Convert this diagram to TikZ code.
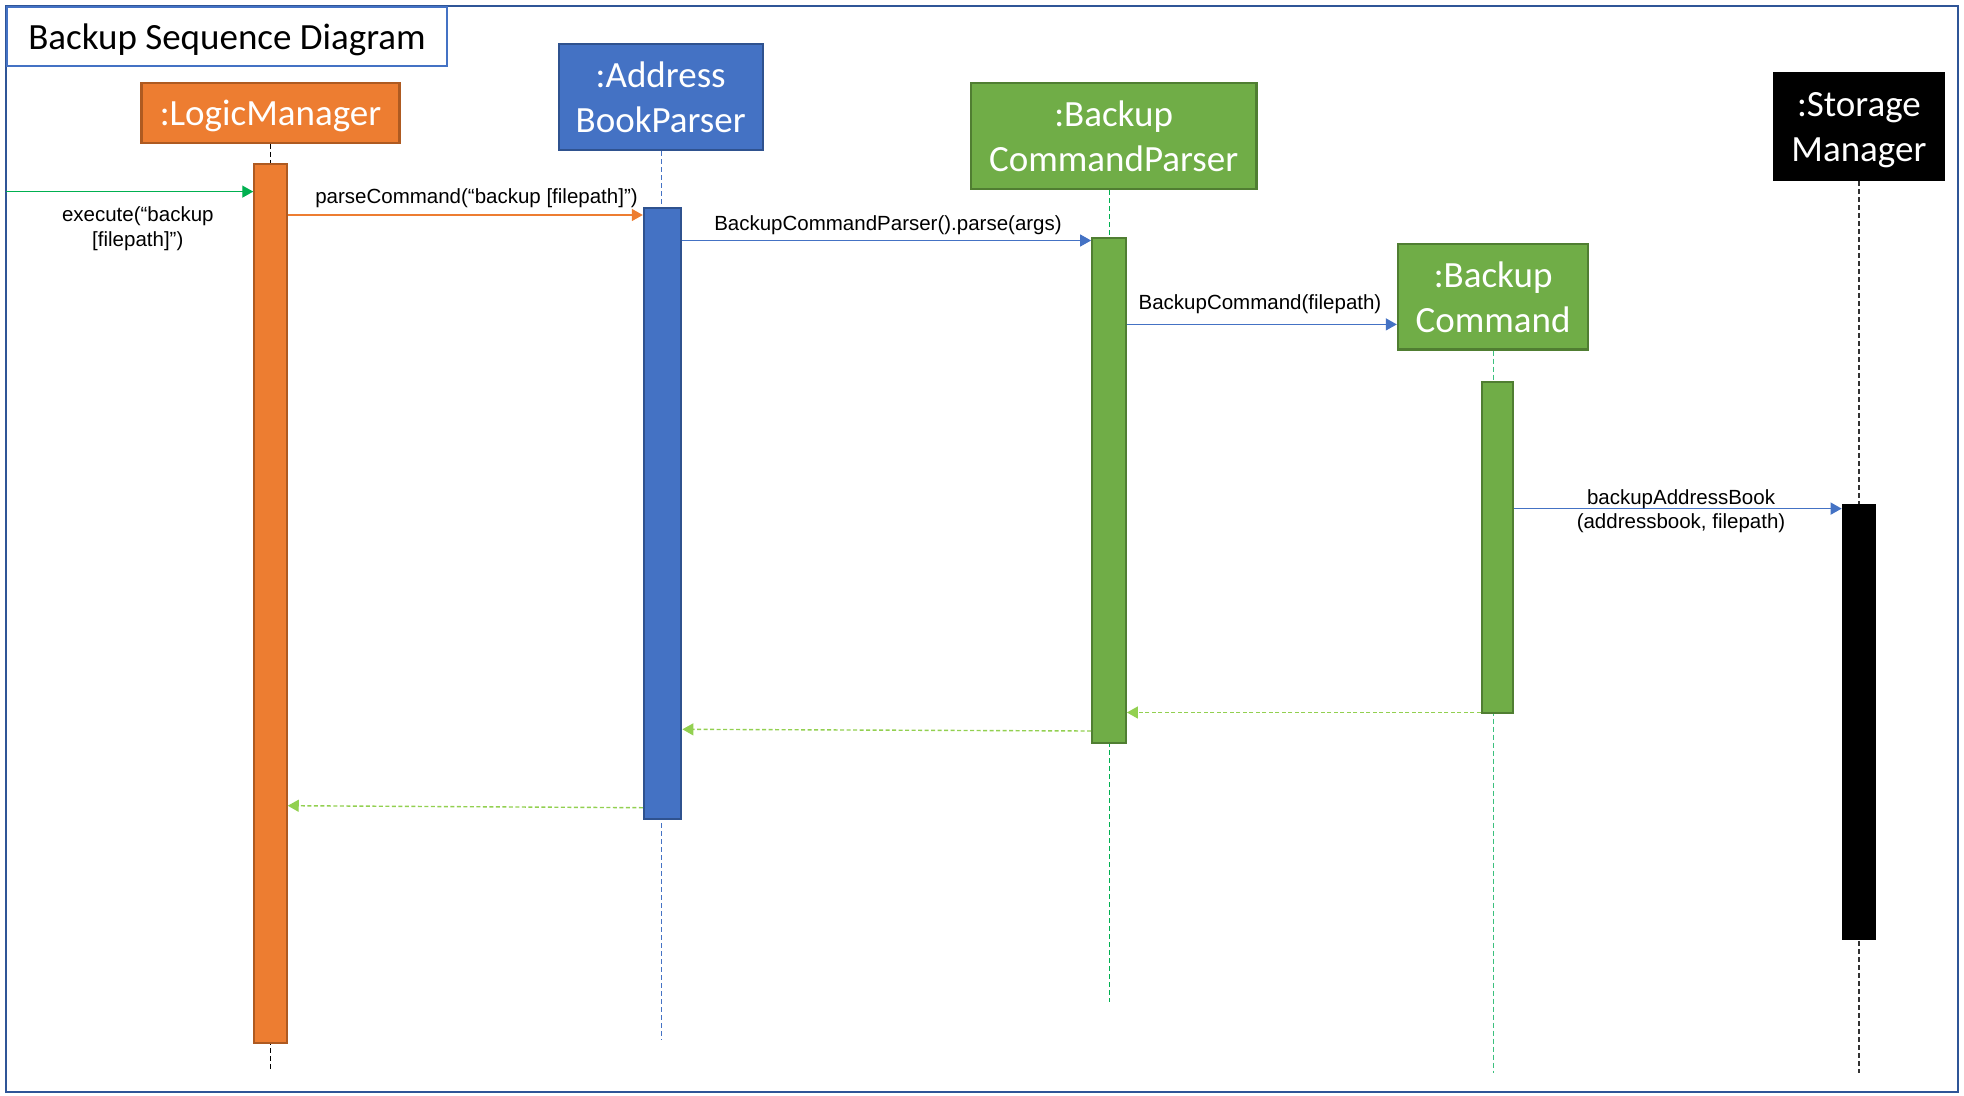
\documentclass[tikz,border=0pt]{standalone}
\usepackage{fontspec}
\setmainfont{Carlito}
\newfontfamily\arialf{Liberation Sans}
\usetikzlibrary{arrows.meta,calc}
\definecolor{orangeF}{HTML}{ED7D31}
\definecolor{orangeD}{HTML}{AE5A21}
\definecolor{blueF}{HTML}{4472C4}
\definecolor{blueD}{HTML}{2F528F}
\definecolor{greenF}{HTML}{70AD47}
\definecolor{greenD}{HTML}{507E32}
\definecolor{frameC}{HTML}{2F5597}
\definecolor{execG}{HTML}{00B050}
\definecolor{retG}{HTML}{92D050}
\definecolor{lifeG}{HTML}{00B050}
\definecolor{lifeG2}{HTML}{3CC07E}
\begin{document}
\begin{tikzpicture}[x=1pt,y=-1pt,
  hdr/.style={draw, line width=2.2pt, text=white, align=center, inner sep=0pt,
    text depth=0pt, font=\fontsize{37}{45}\selectfont},
  act/.style={draw, line width=2pt, inner sep=0pt},
  life/.style={dash pattern=on 5pt off 3pt, line width=1.2pt},
  msg/.style={line width=1.4pt, -{Triangle[length=11pt,width=12pt]}},
  ret/.style={line width=1.4pt, dash pattern=on 4pt off 2.5pt, draw=retG,
    -{Triangle[length=11pt,width=12pt,fill=retG]}},
  lbl/.style={font=\arialf\fontsize{20.5}{24.5}\selectfont, align=center, inner sep=0pt}
]
\useasboundingbox (0,0) rectangle (1964,1095);
% outer frame
\draw[draw=frameC, line width=2.5pt] (6,6) rectangle (1958,1092);
% title
\node[draw=blueF, line width=2pt, anchor=north west, minimum width=440pt, minimum height=59pt,
  inner sep=0pt, text depth=0pt, font=\fontsize{37}{45}\selectfont] (title) at (6,6) {Backup Sequence Diagram};

% headers
\node[hdr, fill=orangeF, draw=orangeD, minimum width=258pt, minimum height=60pt] (lmh) at (270.5,112.8) {:LogicManager};
\node[hdr, fill=blueF, draw=blueD, minimum width=204pt, minimum height=106.5pt] (abph) at (660.7,97) {:Address\\BookParser};
\node[hdr, fill=greenF, draw=greenD, minimum width=285.6pt, minimum height=106.4pt] (bcph) at (1113.6,135.9) {:Backup\\CommandParser};
\node[hdr, fill=greenF, draw=greenD, minimum width=190.4pt, minimum height=105.2pt] (bch) at (1493.1,296.9) {:Backup\\Command};
\node[hdr, fill=black, draw=black, minimum width=170.3pt, minimum height=107.7pt] (smh) at (1858.9,126.5) {:Storage\\Manager};

% lifeline ends
\coordinate (lmend) at (270.5,1071);
\coordinate (abpend) at (661.4,1040);
\coordinate (bcpend) at (1109.5,1002);
\coordinate (bcend) at (1493.1,1073);
\coordinate (smend) at (1858.9,1073);

\draw[life, black] (lmh.south) -- (lmend);
\draw[life, blueF] (abpend |- abph.south) -- (abpend);
\draw[life, lifeG] (bcpend |- bcph.south) -- (bcpend);
\draw[life, lifeG2] (bch.south) -- (bcend);
\draw[life, black!80] (smh.south) -- (smend);

% activations
\node[act, fill=orangeF, draw=orangeD, minimum width=32.5pt, minimum height=879pt] (lmact) at (270.5,603.7) {};
\node[act, fill=blueF, draw=blueD, minimum width=37.6pt, minimum height=611pt] (abpact) at (662.6,513.5) {};
\node[act, fill=greenF, draw=greenD, minimum width=33.8pt, minimum height=504.8pt] (bcpact) at (1109,490.4) {};
\node[act, fill=greenF, draw=greenD, minimum width=31.3pt, minimum height=330.7pt] (bcact) at (1497.5,547.3) {};
\node[act, fill=black, draw=black, minimum width=32.5pt, minimum height=434.6pt] (smact) at (1858.9,722) {};

% message rows
\coordinate (src) at (6,191.6);
\coordinate (r2) at (0,215);
\coordinate (r3) at (0,240.5);
\coordinate (r4) at (0,324.4);
\coordinate (r5) at (0,508.6);
\coordinate (r6) at (0,712.5);
\coordinate (r7a) at (0,731);
\coordinate (r7b) at (0,729.3);
\coordinate (r8a) at (0,807.7);
\coordinate (r8b) at (0,805.7);

\draw[msg, execG] (src) -- (lmact.west |- src);
\draw[msg, orangeF] (lmact.east |- r2) -- (abpact.west |- r2);
\draw[msg, blueF] (abpact.east |- r3) -- (bcpact.west |- r3);
\draw[msg, blueF] (bcpact.east |- r4) -- (bch.west |- r4);
\draw[msg, blueF] (bcact.east |- r5) -- (smact.west |- r5);

\draw[ret] (bcact.west |- r6) -- (bcpact.east |- r6);
\draw[ret] (bcpact.west |- r7a) -- (abpact.east |- r7b);
\draw[ret] (abpact.west |- r8a) -- (lmact.east |- r8b);

% labels
\node[lbl] (l1) at (137.8,228.5) {execute(“backup\\{}[filepath]”)};
\node[lbl] (l2) at (476.5,198) {parseCommand(“backup [filepath]”)};
\node[lbl] (l3) at (888,225.5) {BackupCommandParser().parse(args)};
\node[lbl] (l4) at (1260,304.5) {BackupCommand(filepath)};
\node[lbl] (l5) at (1681,511) {backupAddressBook\\(addressbook, filepath)};
\end{tikzpicture}
\end{document}
